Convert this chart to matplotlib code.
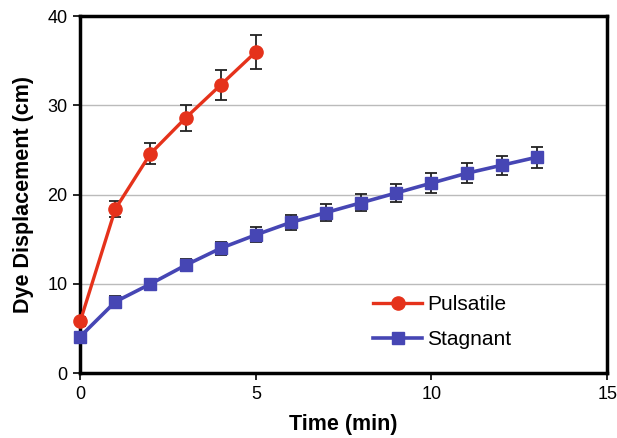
import matplotlib
matplotlib.use("Agg")
import matplotlib.pyplot as plt

plt.rcParams['font.family'] = ['Liberation Sans', 'DejaVu Sans']

puls_x = [0, 1, 2, 3, 4, 5]
puls_y = [5.8, 18.4, 24.6, 28.6, 32.3, 36.0]
puls_err = [0.5, 0.93, 1.2, 1.5, 1.7, 1.9]

stag_x = [0, 1, 2, 3, 4, 5, 6, 7, 8, 9, 10, 11, 12, 13]
stag_y = [4.1, 8.0, 10.0, 12.1, 14.0, 15.5, 16.9, 18.0, 19.1, 20.2, 21.3, 22.4, 23.3, 24.2]
stag_err = [0.5, 0.6, 0.6, 0.65, 0.75, 0.85, 0.85, 0.93, 0.95, 1.0, 1.1, 1.1, 1.05, 1.2]

fig = plt.figure(figsize=(6.17, 4.38), dpi=100)
ax = fig.add_axes([0.130, 0.148, 0.854, 0.815])

red = '#e5321b'
blue = '#4646b4'

ax.errorbar(puls_x, puls_y, yerr=puls_err, fmt='none', ecolor='#222222',
            elinewidth=1.3, capsize=4.5, capthick=1.3, zorder=2)
ax.errorbar(stag_x, stag_y, yerr=stag_err, fmt='none', ecolor='#222222',
            elinewidth=1.3, capsize=4.5, capthick=1.3, zorder=2)
ax.plot(puls_x, puls_y, color=red, marker='o', markersize=9.5, lw=2.4,
        label='Pulsatile', zorder=3, clip_on=False)
ax.plot(stag_x, stag_y, color=blue, marker='s', markersize=8, lw=2.6,
        label='Stagnant', zorder=3, clip_on=False)

ax.set_xlim(0, 15)
ax.set_ylim(0, 40)
ax.set_xticks([0, 5, 10, 15])
ax.set_yticks([0, 10, 20, 30, 40])
ax.yaxis.grid(True, color='#bbbbbb', lw=1)
ax.set_axisbelow(True)
for s in ax.spines.values():
    s.set_linewidth(2.5)
    s.set_color('black')
    s.set_zorder(2.5)
ax.tick_params(axis='both', labelsize=13, length=5, width=1.2, direction='out', pad=4)
ax.set_xlabel('Time (min)', fontsize=15.5, fontweight='bold', labelpad=8)
ax.set_ylabel('Dye Displacement (cm)', fontsize=15.5, fontweight='bold', labelpad=10)

leg = ax.legend(loc='center left', bbox_to_anchor=(0.556, 0.143), frameon=False,
                fontsize=15, handlelength=2.35, handletextpad=0.25, labelspacing=0.8,
                borderpad=0, borderaxespad=0)

fig.savefig('out.png', dpi=100)
